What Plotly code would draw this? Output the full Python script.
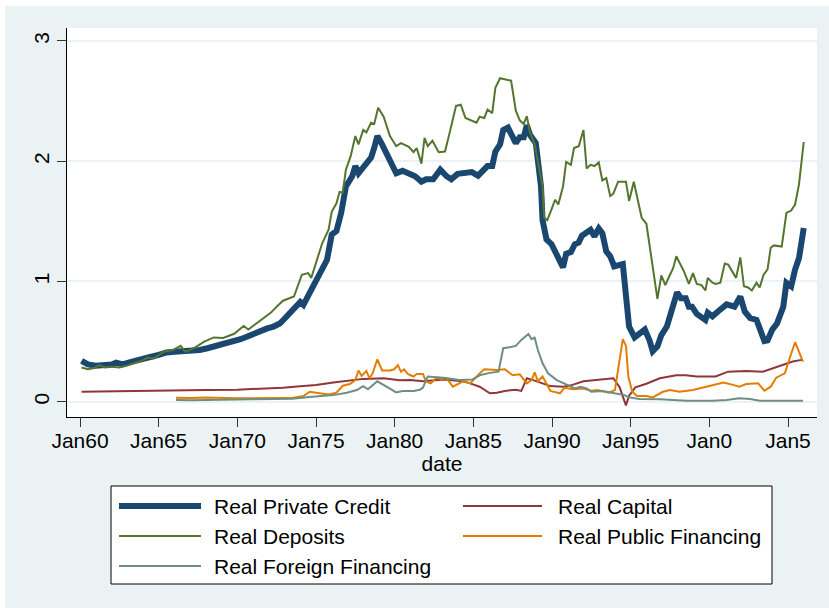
import plotly.graph_objects as go

# ---- data (decimal years, values) ----
credit_t = [1960.1,1960.5,1961.0,1961.5,1962.0,1962.3,1962.7,1963.2,1963.6,1964.0,1964.4,1965.0,1965.5,1966.0,1966.6,1967.2,1967.6,1968.1,1968.6,1969.1,1969.6,1970.2,1970.6,1971.0,1971.5,1971.9,1972.3,1972.7,1973.0,1973.3,1973.7,1974.0,1974.2,1974.6,1975.2,1975.7,1976.0,1976.3,1976.6,1976.9,1977.3,1977.5,1977.7,1978.1,1978.5,1978.7,1978.9,1979.2,1979.5,1979.8,1980.1,1980.5,1980.8,1981.0,1981.3,1981.7,1982.0,1982.45,1982.9,1983.3,1983.6,1984.0,1984.5,1984.9,1985.3,1985.9,1986.2,1986.4,1986.7,1986.9,1987.2,1987.4,1987.7,1987.95,1988.2,1988.4,1988.6,1988.97,1989.1,1989.3,1989.4,1989.65,1989.97,1990.4,1990.7,1990.9,1991.2,1991.45,1991.7,1991.9,1992.2,1992.45,1992.7,1992.97,1993.2,1993.45,1993.7,1993.95,1994.5,1994.6,1994.75,1994.9,1995.25,1995.55,1995.9,1996.2,1996.4,1996.7,1996.95,1997.3,1997.6,1997.95,1998.2,1998.5,1998.7,1998.9,1999.2,1999.5,1999.75,1999.9,2000.2,2000.55,2000.8,2001.1,2001.6,2001.97,2002.25,2002.6,2003.0,2003.3,2003.5,2003.7,2004.0,2004.3,2004.7,2004.9,2005.2,2005.45,2005.7,2006.0]
credit_v = [0.34,0.31,0.30,0.30,0.31,0.325,0.31,0.33,0.34,0.35,0.37,0.39,0.41,0.415,0.42,0.42,0.43,0.445,0.46,0.48,0.50,0.52,0.54,0.565,0.585,0.61,0.625,0.65,0.69,0.737,0.79,0.83,0.805,0.90,1.04,1.18,1.39,1.42,1.57,1.79,1.875,1.96,1.90,1.97,2.03,2.11,2.21,2.14,2.056,1.97,1.90,1.92,1.90,1.89,1.875,1.83,1.85,1.85,1.93,1.875,1.85,1.895,1.90,1.91,1.88,1.96,1.96,2.08,2.14,2.26,2.28,2.22,2.15,2.20,2.20,2.30,2.22,2.15,1.99,1.79,1.51,1.35,1.31,1.20,1.117,1.23,1.245,1.31,1.325,1.38,1.41,1.43,1.375,1.44,1.40,1.25,1.21,1.125,1.145,1.04,0.85,0.625,0.535,0.57,0.60,0.51,0.42,0.46,0.555,0.625,0.75,0.91,0.86,0.86,0.79,0.79,0.73,0.695,0.68,0.74,0.71,0.75,0.78,0.81,0.79,0.875,0.75,0.695,0.68,0.575,0.505,0.51,0.60,0.65,0.79,0.99,0.96,1.10,1.195,1.445]

capital_t = [1960.1,1962.0,1964.0,1966.0,1968.0,1970.0,1971.0,1972.9,1974.0,1975.0,1976.1,1977.2,1978.0,1979.3,1980.3,1981.0,1981.8,1983.1,1984.35,1984.8,1985.4,1986.05,1986.5,1987.0,1987.7,1988.05,1988.4,1988.8,1989.3,1989.9,1990.7,1991.3,1992.0,1993.0,1993.9,1994.3,1994.5,1994.7,1994.9,1995.3,1996.0,1996.85,1997.9,1998.5,1999.2,2000.4,2001.2,2002.35,2003.4,2004.25,2005.3,2005.95]
capital_v = [0.083,0.085,0.088,0.09,0.097,0.10,0.105,0.117,0.128,0.14,0.16,0.175,0.19,0.195,0.178,0.18,0.17,0.185,0.17,0.153,0.125,0.07,0.075,0.09,0.10,0.09,0.195,0.18,0.16,0.13,0.125,0.14,0.17,0.185,0.195,0.12,0.04,-0.03,0.05,0.12,0.15,0.195,0.22,0.22,0.21,0.21,0.25,0.255,0.25,0.29,0.335,0.35]

deposits_t = [1960.1,1960.5,1960.9,1961.2,1961.6,1962.0,1962.5,1963.0,1963.4,1963.9,1964.3,1964.7,1965.3,1965.9,1966.4,1966.7,1967.3,1967.9,1968.5,1969.1,1969.8,1970.4,1970.7,1971.4,1971.9,1972.1,1972.5,1972.9,1973.6,1974.1,1974.5,1974.7,1975.4,1975.8,1976.0,1976.3,1976.5,1976.7,1976.9,1977.2,1977.5,1977.7,1978.0,1978.2,1978.5,1978.7,1978.95,1979.3,1979.7,1980.1,1980.4,1980.9,1981.2,1981.4,1981.7,1981.9,1982.1,1982.4,1982.8,1983.2,1983.5,1983.9,1984.2,1984.5,1985.2,1985.4,1985.7,1985.9,1986.2,1986.4,1986.7,1987.0,1987.4,1987.7,1987.95,1988.2,1988.4,1988.6,1988.9,1989.2,1989.4,1989.5,1989.7,1989.97,1990.2,1990.4,1990.7,1990.9,1991.2,1991.4,1991.7,1992.0,1992.2,1992.45,1992.7,1992.97,1993.2,1993.45,1993.7,1993.9,1994.2,1994.7,1994.9,1995.2,1995.7,1996.0,1996.7,1996.95,1997.2,1997.5,1997.7,1997.9,1998.2,1998.4,1998.7,1998.96,1999.2,1999.5,1999.75,1999.9,2000.2,2000.4,2000.7,2000.98,2001.2,2001.7,2001.97,2002.2,2002.46,2002.7,2003.0,2003.2,2003.45,2003.7,2003.9,2004.1,2004.6,2004.9,2005.2,2005.45,2005.7,2006.0]
deposits_v = [0.285,0.27,0.28,0.305,0.285,0.29,0.285,0.30,0.32,0.34,0.365,0.36,0.415,0.43,0.465,0.415,0.45,0.50,0.535,0.53,0.565,0.63,0.60,0.667,0.72,0.737,0.79,0.84,0.875,1.056,1.07,1.03,1.32,1.43,1.58,1.65,1.745,1.74,1.93,2.04,2.21,2.14,2.26,2.24,2.32,2.31,2.445,2.37,2.21,2.125,2.15,2.12,2.075,2.11,1.98,2.195,2.125,2.17,2.075,2.08,2.24,2.46,2.47,2.36,2.32,2.37,2.36,2.43,2.40,2.61,2.69,2.68,2.67,2.42,2.34,2.31,2.375,2.24,2.14,1.93,1.79,1.53,1.51,1.60,1.68,1.64,1.79,1.995,1.97,2.11,2.125,2.26,1.94,1.97,1.96,1.99,1.84,1.86,1.71,1.73,1.83,1.83,1.67,1.83,1.53,1.48,0.856,1.05,0.97,1.056,1.11,1.21,1.13,1.08,0.98,1.07,0.98,0.97,0.925,1.03,0.99,0.98,0.99,1.15,1.14,1.03,1.20,0.96,0.95,0.925,0.99,0.95,1.056,1.10,1.28,1.30,1.29,1.57,1.59,1.64,1.81,2.16]

public_t = [1966.1,1967.0,1968.0,1969.0,1970.0,1971.0,1972.5,1973.55,1974.2,1974.6,1975.0,1975.35,1975.8,1976.3,1976.7,1977.15,1977.5,1977.7,1977.9,1978.2,1978.4,1978.6,1978.9,1979.2,1979.7,1979.97,1980.2,1980.4,1980.6,1980.85,1981.2,1981.4,1981.8,1982.0,1982.3,1982.65,1982.97,1983.3,1983.7,1984.35,1984.8,1985.4,1985.7,1986.5,1987.0,1987.5,1987.95,1988.4,1988.7,1988.9,1989.1,1989.4,1989.9,1990.5,1990.8,1991.3,1991.97,1992.5,1992.9,1993.6,1994.0,1994.3,1994.5,1994.7,1994.85,1995.1,1995.4,1996.0,1996.4,1997.05,1997.5,1998.1,1998.96,1999.8,2000.2,2000.9,2001.5,2001.9,2002.35,2003.1,2003.5,2003.9,2004.25,2004.8,2005.1,2005.45,2005.95]
public_v = [0.033,0.03,0.035,0.03,0.028,0.028,0.03,0.033,0.047,0.083,0.075,0.07,0.061,0.075,0.133,0.147,0.18,0.26,0.215,0.256,0.195,0.236,0.353,0.26,0.26,0.27,0.305,0.25,0.27,0.23,0.21,0.23,0.23,0.167,0.153,0.2,0.19,0.195,0.125,0.17,0.153,0.236,0.27,0.264,0.27,0.22,0.228,0.153,0.18,0.245,0.17,0.21,0.09,0.07,0.117,0.103,0.11,0.092,0.097,0.075,0.097,0.35,0.52,0.464,0.21,0.083,0.047,0.047,0.036,0.083,0.097,0.083,0.097,0.125,0.14,0.16,0.14,0.125,0.147,0.153,0.092,0.125,0.2,0.236,0.36,0.495,0.333]

foreign_t = [1966.1,1967.0,1968.0,1969.0,1970.0,1971.0,1972.5,1973.5,1974.6,1976.1,1976.95,1977.6,1978.0,1978.3,1978.9,1979.3,1979.7,1980.1,1980.5,1981.2,1981.6,1981.8,1982.1,1983.1,1984.1,1984.95,1985.4,1986.05,1986.6,1986.9,1987.3,1987.7,1988.05,1988.5,1988.7,1988.9,1989.1,1989.4,1989.75,1990.3,1990.9,1991.45,1991.8,1992.2,1992.5,1993.25,1993.8,1994.3,1994.6,1994.9,1995.55,1996.85,1998.55,2000.2,2001.1,2001.9,2002.6,2003.2,2004.9,2005.95]
foreign_v = [0.015,0.012,0.015,0.014,0.018,0.02,0.022,0.025,0.04,0.055,0.075,0.097,0.13,0.103,0.17,0.14,0.103,0.078,0.09,0.09,0.1,0.117,0.21,0.2,0.18,0.185,0.22,0.24,0.25,0.445,0.453,0.464,0.514,0.564,0.52,0.533,0.43,0.32,0.236,0.18,0.145,0.11,0.125,0.11,0.083,0.09,0.075,0.064,0.055,0.036,0.022,0.02,0.008,0.008,0.014,0.028,0.022,0.008,0.006,0.008]

tick_years = [1960, 1965, 1970, 1975, 1980, 1985, 1990, 1995, 2000, 2005]
tick_text = ["Jan60", "Jan65", "Jan70", "Jan75", "Jan80", "Jan85", "Jan90", "Jan95", "Jan0", "Jan5"]

series = [
    ("Real Private Credit", credit_t, credit_v, "#1a476f", 6),
    ("Real Capital", capital_t, capital_v, "#90353b", 2),
    ("Real Deposits", deposits_t, deposits_v, "#55752f", 2),
    ("Real Public Financing", public_t, public_v, "#e37e00", 2),
    ("Real Foreign Financing", foreign_t, foreign_v, "#6e8e84", 2),
]

FONT = "Liberation Sans, Arial, sans-serif"
BG = "#eaf2f3"
W, H = 829, 608
ML, MR, MT, MB = 67, 12, 28, 191
PW, PH = W - ML - MR, H - MT - MB


def px(x):
    return (x - ML) / PW


def py(y):
    return (H - MB - y) / PH


fig = go.Figure()
for name, t, v, color, width in series:
    fig.add_trace(go.Scatter(x=t, y=v, mode="lines", name=name,
                             line=dict(color=color, width=width),
                             showlegend=False))

# legend panel (two columns, Stata style)
shapes = [
    dict(type="rect", xref="paper", yref="paper", x0=px(0), x1=px(W), y0=py(0), y1=py(6),
         fillcolor="white", line=dict(width=0), layer="below"),
    dict(type="rect", xref="paper", yref="paper", x0=px(0), x1=px(5), y0=py(0), y1=py(H),
         fillcolor="white", line=dict(width=0), layer="below"),
    dict(type="rect", xref="paper", yref="paper", x0=px(111), x1=px(772), y0=py(486), y1=py(584),
         fillcolor="white", line=dict(color="black", width=1)),
]
annotations = []
key_x = [(119, 201, 212), (463, 542, 556)]
row_y = [506, 536, 566]
for i, (name, t, v, color, width) in enumerate(series):
    col, row = i % 2, i // 2
    x0, x1, tx = key_x[col]
    yy = row_y[row]
    shapes.append(dict(type="line", xref="paper", yref="paper", x0=px(x0), x1=px(x1),
                       y0=py(yy), y1=py(yy), line=dict(color=color, width=width)))
    annotations.append(dict(xref="paper", yref="paper", x=px(tx), y=py(yy), text=name,
                            showarrow=False, xanchor="left", yanchor="middle",
                            font=dict(family=FONT, size=21, color="black")))

fig.update_layout(
    width=W, height=H,
    margin=dict(l=ML, r=MR, t=MT, b=MB, pad=0),
    paper_bgcolor=BG, plot_bgcolor="white",
    font=dict(family=FONT, size=21, color="black"),
    shapes=shapes, annotations=annotations,
    showlegend=False,
)
fig.update_xaxes(
    range=[1959.174, 2006.843], tickvals=tick_years, ticktext=tick_text,
    showgrid=False, zeroline=False, showline=True, linecolor="black", linewidth=1,
    ticks="outside", ticklen=9, tickcolor="#333333", tickwidth=1,
    ticklabelstandoff=-4,
    title=dict(text="date", font=dict(size=21), standoff=0),
    tickfont=dict(size=21),
)
fig.update_yaxes(
    range=[-0.127, 3.108], tickvals=[0, 1, 2, 3],
    showgrid=True, gridcolor=BG, gridwidth=1.5, zeroline=False,
    showline=True, linecolor="black", linewidth=1,
    ticks="outside", ticklen=9, tickcolor="#333333", tickwidth=1,
    tickangle=-90, tickfont=dict(size=21),
)

fig.write_html("out.html")
